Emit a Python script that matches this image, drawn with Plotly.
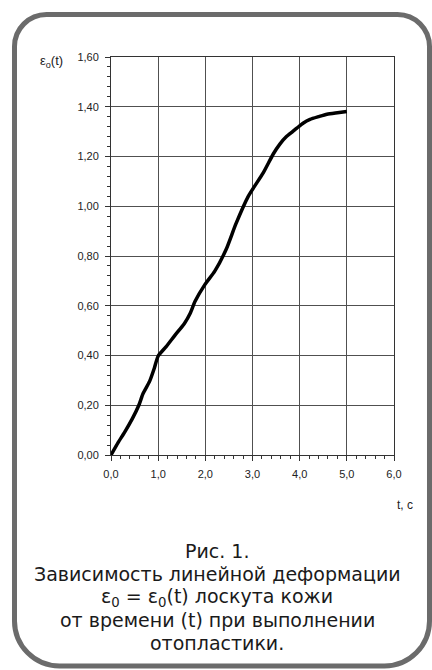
import plotly.graph_objects as go

# Data
t_values = [0.0, 0.15, 0.29, 0.45, 0.59, 0.68, 0.82, 0.92, 1.0, 1.17, 1.35, 1.56, 1.68, 1.78, 1.99, 2.2, 2.44, 2.65, 2.91, 3.23, 3.44, 3.58, 3.72, 3.85, 3.94, 4.08, 4.22, 4.4, 4.58, 4.8, 5.0]
eps_values = [0.0, 0.05, 0.092, 0.145, 0.2, 0.247, 0.297, 0.35, 0.398, 0.436, 0.48, 0.53, 0.57, 0.617, 0.685, 0.739, 0.826, 0.93, 1.04, 1.135, 1.21, 1.25, 1.28, 1.30, 1.314, 1.335, 1.349, 1.36, 1.37, 1.376, 1.381]

x_tickvals = [0, 1, 2, 3, 4, 5, 6]
x_ticktext = ["0,0", "1,0", "2,0", "3,0", "4,0", "5,0", "6,0"]
y_tickvals = [0.0, 0.2, 0.4, 0.6, 0.8, 1.0, 1.2, 1.4, 1.6]
y_ticktext = ["0,00", "0,20", "0,40", "0,60", "0,80", "1,00", "1,20", "1,40", "1,60"]

caption_lines = [
    "Рис. 1.",
    "Зависимость линейной деформации",
    "ε<sub>0</sub> = ε<sub>0</sub>(t) лоскута кожи",
    "от времени (t) при выполнении",
    "отопластики.",
]

W, H = 432, 670
ML, MR, MT, MB = 111, 38, 57, 215
PW, PH = W - ML - MR, H - MT - MB


def px(x):
    return (x - ML) / PW


def py(y):
    return (H - MB - y) / PH


fig = go.Figure()
fig.add_trace(go.Scatter(
    x=t_values, y=eps_values, mode="lines",
    line=dict(color="black", width=3.5, shape="spline", smoothing=0.6),
    hoverinfo="skip", showlegend=False,
))

grid_col = "#505050"
font_fam = "Liberation Sans, Arial, sans-serif"
cap_fam = "DejaVu Sans, Liberation Sans, sans-serif"

fig.update_xaxes(
    range=[0, 6], tickvals=x_tickvals, ticktext=x_ticktext,
    showgrid=True, gridcolor=grid_col, gridwidth=1,
    showline=True, linecolor="#333333", linewidth=1, mirror=True,
    ticks="outside", ticklen=5, tickcolor="#333333", tickwidth=1,
    minor=dict(dtick=0.2, ticks="outside", ticklen=3, tickcolor="#333333", showgrid=False),
    zeroline=False, fixedrange=True,
    tickfont=dict(family=font_fam, size=11, color="#222222"),
    ticklabelstandoff=4,
)
fig.update_yaxes(
    range=[0, 1.6], tickvals=y_tickvals, ticktext=y_ticktext,
    showgrid=True, gridcolor=grid_col, gridwidth=1,
    showline=True, linecolor="#333333", linewidth=1, mirror=True,
    ticks="outside", ticklen=5, tickcolor="#333333", tickwidth=1,
    minor=dict(dtick=0.04, ticks="outside", ticklen=3, tickcolor="#333333", showgrid=False),
    zeroline=False, fixedrange=True,
    tickfont=dict(family=font_fam, size=11, color="#222222"),
    ticklabelstandoff=4,
)

# Rounded frame around the figure
x0, x1, y0, y1 = 14.5, 429.5, 14.5, 666.0
rt, rb = 32.0, 45.0
k = 0.5523


def P(x, y):
    return f"{px(x):.5f},{py(y):.5f}"


path = (
    f"M {P(x0 + rt, y0)} L {P(x1 - rt, y0)} "
    f"C {P(x1 - rt + k * rt, y0)} {P(x1, y0 + rt - k * rt)} {P(x1, y0 + rt)} "
    f"L {P(x1, y1 - rb)} "
    f"C {P(x1, y1 - rb + k * rb)} {P(x1 - rb + k * rb, y1)} {P(x1 - rb, y1)} "
    f"L {P(x0 + rb, y1)} "
    f"C {P(x0 + rb - k * rb, y1)} {P(x0, y1 - rb + k * rb)} {P(x0, y1 - rb)} "
    f"L {P(x0, y0 + rt)} "
    f"C {P(x0, y0 + rt - k * rt)} {P(x0 + rt - k * rt, y0)} {P(x0 + rt, y0)} Z"
)
fig.add_shape(type="path", xref="paper", yref="paper", path=path,
              line=dict(color="#6b6b6b", width=5), layer="above")

annotations = [
    dict(x=px(51), y=py(61), text="ε<sub>o</sub>(t)", showarrow=False,
         xref="paper", yref="paper", xanchor="center", yanchor="middle",
         font=dict(family=font_fam, size=13, color="#222222")),
    dict(x=px(405), y=py(505), text="t, c", showarrow=False,
         xref="paper", yref="paper", xanchor="center", yanchor="middle",
         font=dict(family=font_fam, size=12, color="#222222")),
]
cap_y = [551, 574, 597, 620, 643]
for line, yy in zip(caption_lines, cap_y):
    annotations.append(dict(
        x=px(217), y=py(yy), text=line, showarrow=False,
        xref="paper", yref="paper", xanchor="center", yanchor="middle",
        font=dict(family=cap_fam, size=19, color="#1a1a1a"),
    ))

fig.update_layout(
    width=W, height=H,
    margin=dict(l=ML, r=MR, t=MT, b=MB, autoexpand=False),
    paper_bgcolor="white", plot_bgcolor="white",
    annotations=annotations, showlegend=False,
)

fig.write_html(
    "out.html",
    config={"displayModeBar": False},
    post_script="document.body.style.margin='0';document.body.style.padding='0';document.body.style.overflow='hidden';",
)
